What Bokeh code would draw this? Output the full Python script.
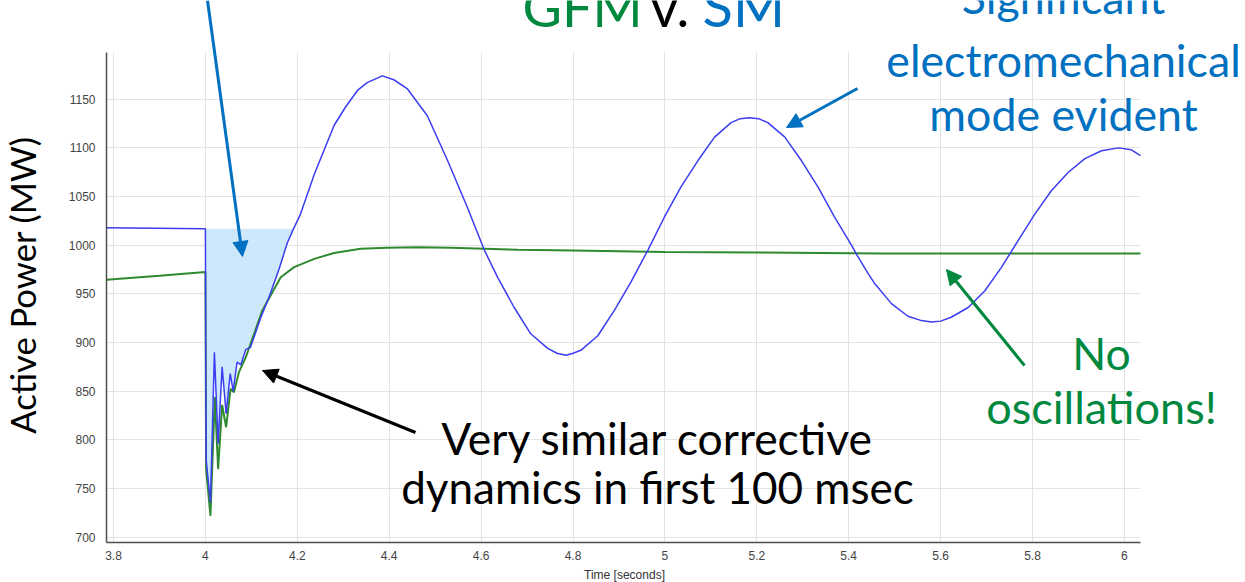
from bokeh.plotting import figure
from bokeh.models import Label, Arrow, NormalHead, FixedTicker, Range1d
from bokeh.embed import file_html
from bokeh.resources import INLINE

# ---------------- data ----------------
sm_time = [3.785, 4.0, 4.0015, 4.011, 4.0196, 4.0277, 4.0364, 4.0451, 4.054, 4.0605,
           4.069, 4.077, 4.088, 4.098, 4.12, 4.138, 4.16, 4.178, 4.192, 4.207, 4.237,
           4.28, 4.305, 4.331, 4.352, 4.385, 4.41, 4.439, 4.483, 4.527, 4.570, 4.607, 4.636,
           4.672, 4.708, 4.745, 4.765, 4.785, 4.80, 4.817, 4.854, 4.890, 4.926, 4.963, 4.999,
           5.035, 5.072, 5.108, 5.144, 5.164, 5.184, 5.204, 5.224, 5.261, 5.297, 5.333, 5.369,
           5.406, 5.419, 5.442, 5.456, 5.493, 5.529, 5.555, 5.580, 5.60, 5.623, 5.660, 5.696,
           5.732, 5.769, 5.805, 5.841, 5.878, 5.914, 5.950, 5.987, 6.015, 6.035]
sm_power = [1018, 1017, 780, 736, 890, 796, 875, 827, 868, 850,
            880, 877, 893, 895, 925, 946, 975, 1002, 1017, 1032, 1073,
            1123, 1142, 1159, 1167, 1174, 1170, 1161, 1133, 1087, 1039, 995, 967,
            936, 909, 894, 889, 887, 889, 892, 907, 933, 962, 995, 1029,
            1060, 1087, 1111, 1126, 1130, 1131, 1130, 1126, 1111, 1087, 1060, 1029,
            1000, 989, 971, 961, 940, 927, 923, 921, 922, 926, 936, 953,
            977, 1005, 1032, 1056, 1075, 1089, 1097, 1100, 1098, 1092]

gfm_time = [3.785, 3.9, 4.0, 4.0015, 4.011, 4.0205, 4.0277, 4.0364, 4.0451, 4.0547,
            4.062, 4.073, 4.088, 4.106, 4.124, 4.138, 4.164, 4.193, 4.237, 4.28,
            4.338, 4.396, 4.461, 4.534, 4.607, 4.68, 4.8, 5.0, 5.2, 5.47, 5.7, 6.035]
gfm_power = [964.5, 968.5, 972.4, 770, 722, 844, 770, 836, 813, 852.5,
             849, 869.6, 885, 909, 933, 945, 967, 977.5, 986, 992,
             996.4, 997.4, 998, 997.4, 996.4, 995.4, 994.5, 993, 992.5, 991.5, 991.5, 991.5]

x_ticks = [3.8, 4.0, 4.2, 4.4, 4.6, 4.8, 5.0, 5.2, 5.4, 5.6, 5.8, 6.0]
x_tick_labels = ["3.8", "4", "4.2", "4.4", "4.6", "4.8", "5", "5.2", "5.4", "5.6", "5.8", "6"]
y_ticks = [700, 750, 800, 850, 900, 950, 1000, 1050, 1100, 1150]

shade_start, shade_end, shade_level = 4.0, 4.192, 1017

# ---------------- layout helpers (canvas pixel -> data) ----------------
def dx(px):
    return 3.8 + (px - 113) / 459.5

def dy(py):
    return 700 + (536.7 - py) / 0.9733

W, H = 1245, 582
p = figure(width=W, height=H, output_backend="svg", toolbar_location=None,
           x_range=Range1d(dx(0), dx(W)), y_range=Range1d(dy(H), dy(0)))
p.min_border_left = p.min_border_right = p.min_border_top = p.min_border_bottom = 0
p.outline_line_color = None
p.background_fill_color = "white"
p.border_fill_color = "white"

AX_L, AX_R, AX_T, AX_B = 106, 1140, 52, 541.7

xa, ya = p.xaxis[0], p.yaxis[0]
for ax in (xa, ya):
    ax.major_tick_line_color = None
    ax.minor_tick_line_color = None
    ax.axis_line_color = "#4d4d4d"
    ax.axis_line_width = 1.5
    ax.major_label_text_font = "Liberation Sans"
    ax.major_label_text_font_size = "12px"
    ax.major_label_text_color = "#444444"

xa.ticker = FixedTicker(ticks=x_ticks)
xa.major_label_overrides = dict(zip(x_ticks, x_tick_labels))
xa.major_label_standoff = 3
xa.fixed_location = dy(AX_B)
xa.bounds = (dx(AX_L), dx(AX_R))
ya.ticker = FixedTicker(ticks=y_ticks)
ya.major_label_standoff = 5
ya.fixed_location = dx(AX_L)
ya.bounds = (dy(AX_B), dy(AX_T))

xg, yg = p.xgrid[0], p.ygrid[0]
xg.ticker = FixedTicker(ticks=x_ticks)
yg.ticker = FixedTicker(ticks=y_ticks)
GRID = "#e3e3e3"
if "cross_bounds" in xg.properties():
    xg.grid_line_color = GRID
    yg.grid_line_color = GRID
    xg.cross_bounds = (dy(AX_B), dy(AX_T))
    yg.cross_bounds = (dx(AX_L), dx(AX_R))
else:
    xg.visible = False
    yg.visible = False
    p.segment(x0=x_ticks, x1=x_ticks, y0=[dy(AX_B)] * len(x_ticks), y1=[dy(AX_T)] * len(x_ticks),
              line_color=GRID, line_width=1)
    p.segment(x0=[dx(AX_L)] * len(y_ticks), x1=[dx(AX_R)] * len(y_ticks), y0=y_ticks, y1=y_ticks,
              line_color=GRID, line_width=1)

# shaded area
sh_t = [t for t in sm_time if shade_start <= t <= shade_end]
sh_p = [v for t, v in zip(sm_time, sm_power) if shade_start <= t <= shade_end]
p.varea(x=sh_t, y1=sh_p, y2=[shade_level] * len(sh_t), fill_color="#cde8fb")

p.line(gfm_time, gfm_power, line_color="#2f8a2f", line_width=2)
p.line(sm_time, sm_power, line_color="#3c3cf2", line_width=1.5)

# ---------------- annotations ----------------
def label(txt, px, base_py, color, size=44, align="center", angle=0.0, font="Lato", k=0.387):
    # anchor at middle of the line box; base_py is the wanted baseline
    p.add_layout(Label(x=dx(px), y=dy(base_py - k * size) if angle == 0 else dy(base_py),
                       text=txt, text_font=font, text_font_size=f"{size}px",
                       text_color=color, text_align=align, text_baseline="middle",
                       angle=angle))

BLUE = "#0070c0"
GREEN = "#00883f"

label("GFM", 522, 27, GREEN, size=54, align="left")
label("v.", 650, 27, "black", size=54, align="left")
label("SM", 702, 27, BLUE, size=56, align="left")

label("Significant", 1063, 14, BLUE, size=44.7)
label("electromechanical", 1063, 77, BLUE, size=44.7)
label("mode evident", 1063, 131, BLUE, size=44.7)

label("Very similar corrective", 657, 454, "black", size=44.4)
label("dynamics in first 100 msec", 657, 504, "black", size=44)

label("No", 1101, 369, GREEN, size=44.5)
label("oscillations!", 1101, 424, GREEN, size=45)

# rotated axis title: middle of line box at x=22 puts baseline near x=36
label("Active Power (MW)", 22, 284.5, "black", size=34.6, angle=1.5707963)
label("Time [seconds]", 624, 578, "#333333", size=12, font="Liberation Sans", k=0.3)

def arrow(x0, y0, x1, y1, color):
    p.add_layout(Arrow(end=NormalHead(size=15, fill_color=color, line_color=color),
                       x_start=dx(x0), y_start=dy(y0), x_end=dx(x1), y_end=dy(y1),
                       line_color=color, line_width=3))

arrow(207, 0, 242, 256, BLUE)
arrow(857, 88, 786, 127, BLUE)
arrow(415, 432, 262, 370, "black")
arrow(1024, 365, 946, 269, GREEN)

open("out.html", "w").write(file_html(p, INLINE))
